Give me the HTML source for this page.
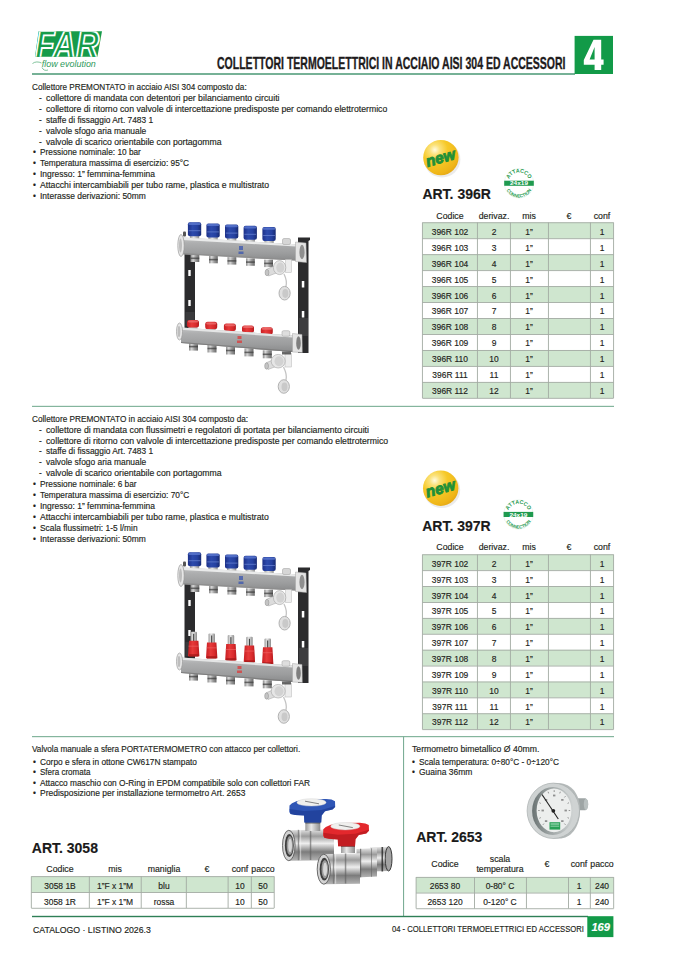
<!DOCTYPE html>
<html><head><meta charset="utf-8"><style>
html,body{margin:0;padding:0;background:#fff;}
body{width:677px;height:958px;position:relative;overflow:hidden;font-family:"Liberation Sans",sans-serif;}
.abs{position:absolute;}
.t{position:absolute;white-space:nowrap;-webkit-text-stroke:0.15px currentColor;}
</style></head><body>
<svg class="abs" style="left:0;top:0" width="677" height="958" viewBox="0 0 677 958">
<clipPath id="cpFar"><polygon points="38.6,31.3 102,31.3 97.4,56.8 35,56.8"/></clipPath>
<polygon points="38.6,31.3 102,31.3 97.4,56.8 35,56.8" fill="#169b4a"/>
<g clip-path="url(#cpFar)"><text x="35" y="57.6" font-family="Liberation Sans" font-weight="bold" font-style="italic" font-size="38" fill="#169b4a" stroke="#fff" stroke-width="1.9" textLength="64" lengthAdjust="spacingAndGlyphs">FAR</text></g>
<text x="41.8" y="66.8" font-family="Liberation Sans" font-style="italic" font-size="8.4" fill="#2e9a5a" textLength="54" lengthAdjust="spacingAndGlyphs" stroke="none">flow evolution</text>
<path d="M32.5,63.5 C35,61.5 38.5,61.5 41.5,63" stroke="#2e9a5a" stroke-width="0.6" fill="none"/>
<path d="M42,67.5 C43,70 45.5,71 48,70" stroke="#2e9a5a" stroke-width="0.6" fill="none"/>
<rect x="32" y="73.1" width="543" height="1.8" fill="#68a98b"/>
<rect x="574.6" y="35.9" width="38.4" height="38.1" fill="#129a48"/>
</svg>
<div class="t" style="left:216.6px;top:54.4px;font-size:16.2px;line-height:18px;font-weight:bold;color:#1e1b1c;transform:scaleX(0.6495);transform-origin:left;white-space:nowrap;-webkit-text-stroke:0.35px #1e1b1c">COLLETTORI TERMOELETTRICI IN ACCIAIO AISI 304 ED ACCESSORI</div>
<svg class="abs" style="left:0;top:0" width="677" height="958"><path fill="#fff" fill-rule="evenodd" d="M593.5,39.8 L601.2,39.8 L601.2,59.6 L603.6,59.6 L603.6,64.8 L601.2,64.8 L601.2,70 L594.6,70 L594.6,64.8 L583.8,64.8 L583.8,59.9 Z M594.6,47 L594.6,59.6 L589.6,59.6 Z"/></svg>
<div class="t" style="left:32.40px;top:83.14px;font-size:8.2px;line-height:9.84px;font-weight:normal;color:#231f20;font-style:normal;transform:scaleX(0.9995);transform-origin:left;">Collettore PREMONTATO in acciaio AISI 304 composto da:</div>
<div class="t" style="left:39.00px;top:94.02px;font-size:8.2px;line-height:9.84px;font-weight:normal;color:#231f20;font-style:normal;">-</div>
<div class="t" style="left:46.40px;top:94.02px;font-size:8.2px;line-height:9.84px;font-weight:normal;color:#231f20;font-style:normal;transform:scaleX(1.0712);transform-origin:left;">collettore di mandata con detentori per bilanciamento circuiti</div>
<div class="t" style="left:39.00px;top:104.90px;font-size:8.2px;line-height:9.84px;font-weight:normal;color:#231f20;font-style:normal;">-</div>
<div class="t" style="left:46.40px;top:104.90px;font-size:8.2px;line-height:9.84px;font-weight:normal;color:#231f20;font-style:normal;transform:scaleX(1.0622);transform-origin:left;">collettore di ritorno con valvole di intercettazione predisposte per comando elettrotermico</div>
<div class="t" style="left:39.00px;top:115.78px;font-size:8.2px;line-height:9.84px;font-weight:normal;color:#231f20;font-style:normal;">-</div>
<div class="t" style="left:46.40px;top:115.78px;font-size:8.2px;line-height:9.84px;font-weight:normal;color:#231f20;font-style:normal;transform:scaleX(1.0201);transform-origin:left;">staffe di fissaggio Art. 7483 1</div>
<div class="t" style="left:39.00px;top:126.66px;font-size:8.2px;line-height:9.84px;font-weight:normal;color:#231f20;font-style:normal;">-</div>
<div class="t" style="left:46.40px;top:126.66px;font-size:8.2px;line-height:9.84px;font-weight:normal;color:#231f20;font-style:normal;transform:scaleX(1.0297);transform-origin:left;">valvole sfogo aria manuale</div>
<div class="t" style="left:39.00px;top:137.54px;font-size:8.2px;line-height:9.84px;font-weight:normal;color:#231f20;font-style:normal;">-</div>
<div class="t" style="left:46.40px;top:137.54px;font-size:8.2px;line-height:9.84px;font-weight:normal;color:#231f20;font-style:normal;transform:scaleX(1.0562);transform-origin:left;">valvole di scarico orientabile con portagomma</div>
<div class="t" style="left:32.90px;top:148.42px;font-size:8.2px;line-height:9.84px;font-weight:normal;color:#231f20;font-style:normal;">•</div>
<div class="t" style="left:40.40px;top:148.42px;font-size:8.2px;line-height:9.84px;font-weight:normal;color:#231f20;font-style:normal;transform:scaleX(1.012);transform-origin:left;">Pressione nominale: 10 bar</div>
<div class="t" style="left:32.90px;top:159.30px;font-size:8.2px;line-height:9.84px;font-weight:normal;color:#231f20;font-style:normal;">•</div>
<div class="t" style="left:40.40px;top:159.30px;font-size:8.2px;line-height:9.84px;font-weight:normal;color:#231f20;font-style:normal;transform:scaleX(1.0136);transform-origin:left;">Temperatura massima di esercizio: 95°C</div>
<div class="t" style="left:32.90px;top:170.18px;font-size:8.2px;line-height:9.84px;font-weight:normal;color:#231f20;font-style:normal;">•</div>
<div class="t" style="left:40.40px;top:170.18px;font-size:8.2px;line-height:9.84px;font-weight:normal;color:#231f20;font-style:normal;transform:scaleX(1.0353);transform-origin:left;">Ingresso: 1” femmina-femmina</div>
<div class="t" style="left:32.90px;top:181.06px;font-size:8.2px;line-height:9.84px;font-weight:normal;color:#231f20;font-style:normal;">•</div>
<div class="t" style="left:40.40px;top:181.06px;font-size:8.2px;line-height:9.84px;font-weight:normal;color:#231f20;font-style:normal;transform:scaleX(1.0598);transform-origin:left;">Attacchi intercambiabili per tubo rame, plastica e multistrato</div>
<div class="t" style="left:32.90px;top:191.94px;font-size:8.2px;line-height:9.84px;font-weight:normal;color:#231f20;font-style:normal;">•</div>
<div class="t" style="left:40.40px;top:191.94px;font-size:8.2px;line-height:9.84px;font-weight:normal;color:#231f20;font-style:normal;transform:scaleX(1.0344);transform-origin:left;">Interasse derivazioni: 50mm</div>
<div class="t" style="left:32.40px;top:414.64px;font-size:8.2px;line-height:9.84px;font-weight:normal;color:#231f20;font-style:normal;transform:scaleX(1.0061);transform-origin:left;">Collettore PREMONTATO in acciaio AISI 304 composto da:</div>
<div class="t" style="left:39.00px;top:425.57px;font-size:8.2px;line-height:9.84px;font-weight:normal;color:#231f20;font-style:normal;">-</div>
<div class="t" style="left:46.40px;top:425.57px;font-size:8.2px;line-height:9.84px;font-weight:normal;color:#231f20;font-style:normal;transform:scaleX(1.0671);transform-origin:left;">collettore di mandata con flussimetri e regolatori di portata per bilanciamento circuiti</div>
<div class="t" style="left:39.00px;top:436.50px;font-size:8.2px;line-height:9.84px;font-weight:normal;color:#231f20;font-style:normal;">-</div>
<div class="t" style="left:46.40px;top:436.50px;font-size:8.2px;line-height:9.84px;font-weight:normal;color:#231f20;font-style:normal;transform:scaleX(1.0647);transform-origin:left;">collettore di ritorno con valvole di intercettazione predisposte per comando elettrotermico</div>
<div class="t" style="left:39.00px;top:447.43px;font-size:8.2px;line-height:9.84px;font-weight:normal;color:#231f20;font-style:normal;">-</div>
<div class="t" style="left:46.40px;top:447.43px;font-size:8.2px;line-height:9.84px;font-weight:normal;color:#231f20;font-style:normal;transform:scaleX(1.0201);transform-origin:left;">staffe di fissaggio Art. 7483 1</div>
<div class="t" style="left:39.00px;top:458.36px;font-size:8.2px;line-height:9.84px;font-weight:normal;color:#231f20;font-style:normal;">-</div>
<div class="t" style="left:46.40px;top:458.36px;font-size:8.2px;line-height:9.84px;font-weight:normal;color:#231f20;font-style:normal;transform:scaleX(1.0297);transform-origin:left;">valvole sfogo aria manuale</div>
<div class="t" style="left:39.00px;top:469.29px;font-size:8.2px;line-height:9.84px;font-weight:normal;color:#231f20;font-style:normal;">-</div>
<div class="t" style="left:46.40px;top:469.29px;font-size:8.2px;line-height:9.84px;font-weight:normal;color:#231f20;font-style:normal;transform:scaleX(1.0568);transform-origin:left;">valvole di scarico orientabile con portagomma</div>
<div class="t" style="left:32.90px;top:480.22px;font-size:8.2px;line-height:9.84px;font-weight:normal;color:#231f20;font-style:normal;">•</div>
<div class="t" style="left:40.40px;top:480.22px;font-size:8.2px;line-height:9.84px;font-weight:normal;color:#231f20;font-style:normal;transform:scaleX(1.0159);transform-origin:left;">Pressione nominale: 6 bar</div>
<div class="t" style="left:32.90px;top:491.15px;font-size:8.2px;line-height:9.84px;font-weight:normal;color:#231f20;font-style:normal;">•</div>
<div class="t" style="left:40.40px;top:491.15px;font-size:8.2px;line-height:9.84px;font-weight:normal;color:#231f20;font-style:normal;transform:scaleX(1.015);transform-origin:left;">Temperatura massima di esercizio: 70°C</div>
<div class="t" style="left:32.90px;top:502.08px;font-size:8.2px;line-height:9.84px;font-weight:normal;color:#231f20;font-style:normal;">•</div>
<div class="t" style="left:40.40px;top:502.08px;font-size:8.2px;line-height:9.84px;font-weight:normal;color:#231f20;font-style:normal;transform:scaleX(1.0353);transform-origin:left;">Ingresso: 1” femmina-femmina</div>
<div class="t" style="left:32.90px;top:513.01px;font-size:8.2px;line-height:9.84px;font-weight:normal;color:#231f20;font-style:normal;">•</div>
<div class="t" style="left:40.40px;top:513.01px;font-size:8.2px;line-height:9.84px;font-weight:normal;color:#231f20;font-style:normal;transform:scaleX(1.0584);transform-origin:left;">Attacchi intercambiabili per tubo rame, plastica e multistrato</div>
<div class="t" style="left:32.90px;top:523.94px;font-size:8.2px;line-height:9.84px;font-weight:normal;color:#231f20;font-style:normal;">•</div>
<div class="t" style="left:40.40px;top:523.94px;font-size:8.2px;line-height:9.84px;font-weight:normal;color:#231f20;font-style:normal;transform:scaleX(1.0209);transform-origin:left;">Scala flussimetri: 1-5 l/min</div>
<div class="t" style="left:32.90px;top:534.87px;font-size:8.2px;line-height:9.84px;font-weight:normal;color:#231f20;font-style:normal;">•</div>
<div class="t" style="left:40.40px;top:534.87px;font-size:8.2px;line-height:9.84px;font-weight:normal;color:#231f20;font-style:normal;transform:scaleX(1.0344);transform-origin:left;">Interasse derivazioni: 50mm</div>
<svg class="abs" style="left:0;top:0" width="677" height="958"><rect x="422.4" y="222.50" width="191.20" height="15.96" fill="#cfe6cf"/><rect x="422.4" y="254.42" width="191.20" height="15.96" fill="#cfe6cf"/><rect x="422.4" y="286.34" width="191.20" height="15.96" fill="#cfe6cf"/><rect x="422.4" y="318.26" width="191.20" height="15.96" fill="#cfe6cf"/><rect x="422.4" y="350.18" width="191.20" height="15.96" fill="#cfe6cf"/><rect x="422.4" y="382.10" width="191.20" height="15.96" fill="#cfe6cf"/><rect x="422.4" y="222.30" width="191.20" height="0.9" fill="#a3aba3"/><rect x="422.4" y="238.26" width="191.20" height="0.9" fill="#a3aba3"/><rect x="422.4" y="254.22" width="191.20" height="0.9" fill="#a3aba3"/><rect x="422.4" y="270.18" width="191.20" height="0.9" fill="#a3aba3"/><rect x="422.4" y="286.14" width="191.20" height="0.9" fill="#a3aba3"/><rect x="422.4" y="302.10" width="191.20" height="0.9" fill="#a3aba3"/><rect x="422.4" y="318.06" width="191.20" height="0.9" fill="#a3aba3"/><rect x="422.4" y="334.02" width="191.20" height="0.9" fill="#a3aba3"/><rect x="422.4" y="349.98" width="191.20" height="0.9" fill="#a3aba3"/><rect x="422.4" y="365.94" width="191.20" height="0.9" fill="#a3aba3"/><rect x="422.4" y="381.90" width="191.20" height="0.9" fill="#a3aba3"/><rect x="422.4" y="397.86" width="191.20" height="0.9" fill="#a3aba3"/><rect x="421.95" y="222.50" width="0.9" height="175.56" fill="#a3aba3"/><rect x="476.95" y="222.50" width="0.9" height="175.56" fill="#a3aba3"/><rect x="509.95" y="222.50" width="0.9" height="175.56" fill="#a3aba3"/><rect x="547.95" y="222.50" width="0.9" height="175.56" fill="#a3aba3"/><rect x="589.95" y="222.50" width="0.9" height="175.56" fill="#a3aba3"/><rect x="613.15" y="222.50" width="0.9" height="175.56" fill="#a3aba3"/></svg>
<div class="t" style="left:149.90px;width:600px;text-align:center;top:211.64px;font-size:8.2px;line-height:9.84px;font-weight:normal;color:#231f20;font-style:normal;transform:scaleX(1.07);">Codice</div>
<div class="t" style="left:193.90px;width:600px;text-align:center;top:211.64px;font-size:8.2px;line-height:9.84px;font-weight:normal;color:#231f20;font-style:normal;transform:scaleX(1.07);">derivaz.</div>
<div class="t" style="left:229.40px;width:600px;text-align:center;top:211.64px;font-size:8.2px;line-height:9.84px;font-weight:normal;color:#231f20;font-style:normal;transform:scaleX(1.07);">mis</div>
<div class="t" style="left:269.40px;width:600px;text-align:center;top:211.64px;font-size:8.2px;line-height:9.84px;font-weight:normal;color:#231f20;font-style:normal;transform:scaleX(1.07);">€</div>
<div class="t" style="left:302.00px;width:600px;text-align:center;top:211.64px;font-size:8.2px;line-height:9.84px;font-weight:normal;color:#231f20;font-style:normal;transform:scaleX(1.07);">conf</div>
<div class="t" style="left:149.90px;width:600px;text-align:center;top:227.99px;font-size:8.2px;line-height:9.84px;font-weight:normal;color:#231f20;font-style:normal;transform:scaleX(1.03);">396R 102</div>
<div class="t" style="left:193.90px;width:600px;text-align:center;top:227.99px;font-size:8.2px;line-height:9.84px;font-weight:normal;color:#231f20;font-style:normal;transform:scaleX(1.03);">2</div>
<div class="t" style="left:229.40px;width:600px;text-align:center;top:227.99px;font-size:8.2px;line-height:9.84px;font-weight:normal;color:#231f20;font-style:normal;transform:scaleX(1.03);">1”</div>
<div class="t" style="left:302.00px;width:600px;text-align:center;top:227.99px;font-size:8.2px;line-height:9.84px;font-weight:normal;color:#231f20;font-style:normal;transform:scaleX(1.03);">1</div>
<div class="t" style="left:149.90px;width:600px;text-align:center;top:243.89px;font-size:8.2px;line-height:9.84px;font-weight:normal;color:#231f20;font-style:normal;transform:scaleX(1.03);">396R 103</div>
<div class="t" style="left:193.90px;width:600px;text-align:center;top:243.89px;font-size:8.2px;line-height:9.84px;font-weight:normal;color:#231f20;font-style:normal;transform:scaleX(1.03);">3</div>
<div class="t" style="left:229.40px;width:600px;text-align:center;top:243.89px;font-size:8.2px;line-height:9.84px;font-weight:normal;color:#231f20;font-style:normal;transform:scaleX(1.03);">1”</div>
<div class="t" style="left:302.00px;width:600px;text-align:center;top:243.89px;font-size:8.2px;line-height:9.84px;font-weight:normal;color:#231f20;font-style:normal;transform:scaleX(1.03);">1</div>
<div class="t" style="left:149.90px;width:600px;text-align:center;top:259.79px;font-size:8.2px;line-height:9.84px;font-weight:normal;color:#231f20;font-style:normal;transform:scaleX(1.03);">396R 104</div>
<div class="t" style="left:193.90px;width:600px;text-align:center;top:259.79px;font-size:8.2px;line-height:9.84px;font-weight:normal;color:#231f20;font-style:normal;transform:scaleX(1.03);">4</div>
<div class="t" style="left:229.40px;width:600px;text-align:center;top:259.79px;font-size:8.2px;line-height:9.84px;font-weight:normal;color:#231f20;font-style:normal;transform:scaleX(1.03);">1”</div>
<div class="t" style="left:302.00px;width:600px;text-align:center;top:259.79px;font-size:8.2px;line-height:9.84px;font-weight:normal;color:#231f20;font-style:normal;transform:scaleX(1.03);">1</div>
<div class="t" style="left:149.90px;width:600px;text-align:center;top:275.69px;font-size:8.2px;line-height:9.84px;font-weight:normal;color:#231f20;font-style:normal;transform:scaleX(1.03);">396R 105</div>
<div class="t" style="left:193.90px;width:600px;text-align:center;top:275.69px;font-size:8.2px;line-height:9.84px;font-weight:normal;color:#231f20;font-style:normal;transform:scaleX(1.03);">5</div>
<div class="t" style="left:229.40px;width:600px;text-align:center;top:275.69px;font-size:8.2px;line-height:9.84px;font-weight:normal;color:#231f20;font-style:normal;transform:scaleX(1.03);">1”</div>
<div class="t" style="left:302.00px;width:600px;text-align:center;top:275.69px;font-size:8.2px;line-height:9.84px;font-weight:normal;color:#231f20;font-style:normal;transform:scaleX(1.03);">1</div>
<div class="t" style="left:149.90px;width:600px;text-align:center;top:291.59px;font-size:8.2px;line-height:9.84px;font-weight:normal;color:#231f20;font-style:normal;transform:scaleX(1.03);">396R 106</div>
<div class="t" style="left:193.90px;width:600px;text-align:center;top:291.59px;font-size:8.2px;line-height:9.84px;font-weight:normal;color:#231f20;font-style:normal;transform:scaleX(1.03);">6</div>
<div class="t" style="left:229.40px;width:600px;text-align:center;top:291.59px;font-size:8.2px;line-height:9.84px;font-weight:normal;color:#231f20;font-style:normal;transform:scaleX(1.03);">1”</div>
<div class="t" style="left:302.00px;width:600px;text-align:center;top:291.59px;font-size:8.2px;line-height:9.84px;font-weight:normal;color:#231f20;font-style:normal;transform:scaleX(1.03);">1</div>
<div class="t" style="left:149.90px;width:600px;text-align:center;top:307.49px;font-size:8.2px;line-height:9.84px;font-weight:normal;color:#231f20;font-style:normal;transform:scaleX(1.03);">396R 107</div>
<div class="t" style="left:193.90px;width:600px;text-align:center;top:307.49px;font-size:8.2px;line-height:9.84px;font-weight:normal;color:#231f20;font-style:normal;transform:scaleX(1.03);">7</div>
<div class="t" style="left:229.40px;width:600px;text-align:center;top:307.49px;font-size:8.2px;line-height:9.84px;font-weight:normal;color:#231f20;font-style:normal;transform:scaleX(1.03);">1”</div>
<div class="t" style="left:302.00px;width:600px;text-align:center;top:307.49px;font-size:8.2px;line-height:9.84px;font-weight:normal;color:#231f20;font-style:normal;transform:scaleX(1.03);">1</div>
<div class="t" style="left:149.90px;width:600px;text-align:center;top:323.39px;font-size:8.2px;line-height:9.84px;font-weight:normal;color:#231f20;font-style:normal;transform:scaleX(1.03);">396R 108</div>
<div class="t" style="left:193.90px;width:600px;text-align:center;top:323.39px;font-size:8.2px;line-height:9.84px;font-weight:normal;color:#231f20;font-style:normal;transform:scaleX(1.03);">8</div>
<div class="t" style="left:229.40px;width:600px;text-align:center;top:323.39px;font-size:8.2px;line-height:9.84px;font-weight:normal;color:#231f20;font-style:normal;transform:scaleX(1.03);">1”</div>
<div class="t" style="left:302.00px;width:600px;text-align:center;top:323.39px;font-size:8.2px;line-height:9.84px;font-weight:normal;color:#231f20;font-style:normal;transform:scaleX(1.03);">1</div>
<div class="t" style="left:149.90px;width:600px;text-align:center;top:339.29px;font-size:8.2px;line-height:9.84px;font-weight:normal;color:#231f20;font-style:normal;transform:scaleX(1.03);">396R 109</div>
<div class="t" style="left:193.90px;width:600px;text-align:center;top:339.29px;font-size:8.2px;line-height:9.84px;font-weight:normal;color:#231f20;font-style:normal;transform:scaleX(1.03);">9</div>
<div class="t" style="left:229.40px;width:600px;text-align:center;top:339.29px;font-size:8.2px;line-height:9.84px;font-weight:normal;color:#231f20;font-style:normal;transform:scaleX(1.03);">1”</div>
<div class="t" style="left:302.00px;width:600px;text-align:center;top:339.29px;font-size:8.2px;line-height:9.84px;font-weight:normal;color:#231f20;font-style:normal;transform:scaleX(1.03);">1</div>
<div class="t" style="left:149.90px;width:600px;text-align:center;top:355.19px;font-size:8.2px;line-height:9.84px;font-weight:normal;color:#231f20;font-style:normal;transform:scaleX(1.03);">396R 110</div>
<div class="t" style="left:193.90px;width:600px;text-align:center;top:355.19px;font-size:8.2px;line-height:9.84px;font-weight:normal;color:#231f20;font-style:normal;transform:scaleX(1.03);">10</div>
<div class="t" style="left:229.40px;width:600px;text-align:center;top:355.19px;font-size:8.2px;line-height:9.84px;font-weight:normal;color:#231f20;font-style:normal;transform:scaleX(1.03);">1”</div>
<div class="t" style="left:302.00px;width:600px;text-align:center;top:355.19px;font-size:8.2px;line-height:9.84px;font-weight:normal;color:#231f20;font-style:normal;transform:scaleX(1.03);">1</div>
<div class="t" style="left:149.90px;width:600px;text-align:center;top:371.09px;font-size:8.2px;line-height:9.84px;font-weight:normal;color:#231f20;font-style:normal;transform:scaleX(1.03);">396R 111</div>
<div class="t" style="left:193.90px;width:600px;text-align:center;top:371.09px;font-size:8.2px;line-height:9.84px;font-weight:normal;color:#231f20;font-style:normal;transform:scaleX(1.03);">11</div>
<div class="t" style="left:229.40px;width:600px;text-align:center;top:371.09px;font-size:8.2px;line-height:9.84px;font-weight:normal;color:#231f20;font-style:normal;transform:scaleX(1.03);">1”</div>
<div class="t" style="left:302.00px;width:600px;text-align:center;top:371.09px;font-size:8.2px;line-height:9.84px;font-weight:normal;color:#231f20;font-style:normal;transform:scaleX(1.03);">1</div>
<div class="t" style="left:149.90px;width:600px;text-align:center;top:386.99px;font-size:8.2px;line-height:9.84px;font-weight:normal;color:#231f20;font-style:normal;transform:scaleX(1.03);">396R 112</div>
<div class="t" style="left:193.90px;width:600px;text-align:center;top:386.99px;font-size:8.2px;line-height:9.84px;font-weight:normal;color:#231f20;font-style:normal;transform:scaleX(1.03);">12</div>
<div class="t" style="left:229.40px;width:600px;text-align:center;top:386.99px;font-size:8.2px;line-height:9.84px;font-weight:normal;color:#231f20;font-style:normal;transform:scaleX(1.03);">1”</div>
<div class="t" style="left:302.00px;width:600px;text-align:center;top:386.99px;font-size:8.2px;line-height:9.84px;font-weight:normal;color:#231f20;font-style:normal;transform:scaleX(1.03);">1</div>
<svg class="abs" style="left:0;top:0" width="677" height="958"><rect x="422.4" y="554.50" width="191.20" height="15.90" fill="#cfe6cf"/><rect x="422.4" y="586.30" width="191.20" height="15.90" fill="#cfe6cf"/><rect x="422.4" y="618.10" width="191.20" height="15.90" fill="#cfe6cf"/><rect x="422.4" y="649.90" width="191.20" height="15.90" fill="#cfe6cf"/><rect x="422.4" y="681.70" width="191.20" height="15.90" fill="#cfe6cf"/><rect x="422.4" y="713.50" width="191.20" height="15.90" fill="#cfe6cf"/><rect x="422.4" y="554.30" width="191.20" height="0.9" fill="#a3aba3"/><rect x="422.4" y="570.20" width="191.20" height="0.9" fill="#a3aba3"/><rect x="422.4" y="586.10" width="191.20" height="0.9" fill="#a3aba3"/><rect x="422.4" y="602.00" width="191.20" height="0.9" fill="#a3aba3"/><rect x="422.4" y="617.90" width="191.20" height="0.9" fill="#a3aba3"/><rect x="422.4" y="633.80" width="191.20" height="0.9" fill="#a3aba3"/><rect x="422.4" y="649.70" width="191.20" height="0.9" fill="#a3aba3"/><rect x="422.4" y="665.60" width="191.20" height="0.9" fill="#a3aba3"/><rect x="422.4" y="681.50" width="191.20" height="0.9" fill="#a3aba3"/><rect x="422.4" y="697.40" width="191.20" height="0.9" fill="#a3aba3"/><rect x="422.4" y="713.30" width="191.20" height="0.9" fill="#a3aba3"/><rect x="422.4" y="729.20" width="191.20" height="0.9" fill="#a3aba3"/><rect x="421.95" y="554.50" width="0.9" height="174.90" fill="#a3aba3"/><rect x="476.95" y="554.50" width="0.9" height="174.90" fill="#a3aba3"/><rect x="509.95" y="554.50" width="0.9" height="174.90" fill="#a3aba3"/><rect x="547.95" y="554.50" width="0.9" height="174.90" fill="#a3aba3"/><rect x="589.95" y="554.50" width="0.9" height="174.90" fill="#a3aba3"/><rect x="613.15" y="554.50" width="0.9" height="174.90" fill="#a3aba3"/></svg>
<div class="t" style="left:149.90px;width:600px;text-align:center;top:542.74px;font-size:8.2px;line-height:9.84px;font-weight:normal;color:#231f20;font-style:normal;transform:scaleX(1.07);">Codice</div>
<div class="t" style="left:193.90px;width:600px;text-align:center;top:542.74px;font-size:8.2px;line-height:9.84px;font-weight:normal;color:#231f20;font-style:normal;transform:scaleX(1.07);">derivaz.</div>
<div class="t" style="left:229.40px;width:600px;text-align:center;top:542.74px;font-size:8.2px;line-height:9.84px;font-weight:normal;color:#231f20;font-style:normal;transform:scaleX(1.07);">mis</div>
<div class="t" style="left:269.40px;width:600px;text-align:center;top:542.74px;font-size:8.2px;line-height:9.84px;font-weight:normal;color:#231f20;font-style:normal;transform:scaleX(1.07);">€</div>
<div class="t" style="left:302.00px;width:600px;text-align:center;top:542.74px;font-size:8.2px;line-height:9.84px;font-weight:normal;color:#231f20;font-style:normal;transform:scaleX(1.07);">conf</div>
<div class="t" style="left:149.90px;width:600px;text-align:center;top:559.94px;font-size:8.2px;line-height:9.84px;font-weight:normal;color:#231f20;font-style:normal;transform:scaleX(1.03);">397R 102</div>
<div class="t" style="left:193.90px;width:600px;text-align:center;top:559.94px;font-size:8.2px;line-height:9.84px;font-weight:normal;color:#231f20;font-style:normal;transform:scaleX(1.03);">2</div>
<div class="t" style="left:229.40px;width:600px;text-align:center;top:559.94px;font-size:8.2px;line-height:9.84px;font-weight:normal;color:#231f20;font-style:normal;transform:scaleX(1.03);">1”</div>
<div class="t" style="left:302.00px;width:600px;text-align:center;top:559.94px;font-size:8.2px;line-height:9.84px;font-weight:normal;color:#231f20;font-style:normal;transform:scaleX(1.03);">1</div>
<div class="t" style="left:149.90px;width:600px;text-align:center;top:575.78px;font-size:8.2px;line-height:9.84px;font-weight:normal;color:#231f20;font-style:normal;transform:scaleX(1.03);">397R 103</div>
<div class="t" style="left:193.90px;width:600px;text-align:center;top:575.78px;font-size:8.2px;line-height:9.84px;font-weight:normal;color:#231f20;font-style:normal;transform:scaleX(1.03);">3</div>
<div class="t" style="left:229.40px;width:600px;text-align:center;top:575.78px;font-size:8.2px;line-height:9.84px;font-weight:normal;color:#231f20;font-style:normal;transform:scaleX(1.03);">1”</div>
<div class="t" style="left:302.00px;width:600px;text-align:center;top:575.78px;font-size:8.2px;line-height:9.84px;font-weight:normal;color:#231f20;font-style:normal;transform:scaleX(1.03);">1</div>
<div class="t" style="left:149.90px;width:600px;text-align:center;top:591.62px;font-size:8.2px;line-height:9.84px;font-weight:normal;color:#231f20;font-style:normal;transform:scaleX(1.03);">397R 104</div>
<div class="t" style="left:193.90px;width:600px;text-align:center;top:591.62px;font-size:8.2px;line-height:9.84px;font-weight:normal;color:#231f20;font-style:normal;transform:scaleX(1.03);">4</div>
<div class="t" style="left:229.40px;width:600px;text-align:center;top:591.62px;font-size:8.2px;line-height:9.84px;font-weight:normal;color:#231f20;font-style:normal;transform:scaleX(1.03);">1”</div>
<div class="t" style="left:302.00px;width:600px;text-align:center;top:591.62px;font-size:8.2px;line-height:9.84px;font-weight:normal;color:#231f20;font-style:normal;transform:scaleX(1.03);">1</div>
<div class="t" style="left:149.90px;width:600px;text-align:center;top:607.46px;font-size:8.2px;line-height:9.84px;font-weight:normal;color:#231f20;font-style:normal;transform:scaleX(1.03);">397R 105</div>
<div class="t" style="left:193.90px;width:600px;text-align:center;top:607.46px;font-size:8.2px;line-height:9.84px;font-weight:normal;color:#231f20;font-style:normal;transform:scaleX(1.03);">5</div>
<div class="t" style="left:229.40px;width:600px;text-align:center;top:607.46px;font-size:8.2px;line-height:9.84px;font-weight:normal;color:#231f20;font-style:normal;transform:scaleX(1.03);">1”</div>
<div class="t" style="left:302.00px;width:600px;text-align:center;top:607.46px;font-size:8.2px;line-height:9.84px;font-weight:normal;color:#231f20;font-style:normal;transform:scaleX(1.03);">1</div>
<div class="t" style="left:149.90px;width:600px;text-align:center;top:623.30px;font-size:8.2px;line-height:9.84px;font-weight:normal;color:#231f20;font-style:normal;transform:scaleX(1.03);">397R 106</div>
<div class="t" style="left:193.90px;width:600px;text-align:center;top:623.30px;font-size:8.2px;line-height:9.84px;font-weight:normal;color:#231f20;font-style:normal;transform:scaleX(1.03);">6</div>
<div class="t" style="left:229.40px;width:600px;text-align:center;top:623.30px;font-size:8.2px;line-height:9.84px;font-weight:normal;color:#231f20;font-style:normal;transform:scaleX(1.03);">1”</div>
<div class="t" style="left:302.00px;width:600px;text-align:center;top:623.30px;font-size:8.2px;line-height:9.84px;font-weight:normal;color:#231f20;font-style:normal;transform:scaleX(1.03);">1</div>
<div class="t" style="left:149.90px;width:600px;text-align:center;top:639.14px;font-size:8.2px;line-height:9.84px;font-weight:normal;color:#231f20;font-style:normal;transform:scaleX(1.03);">397R 107</div>
<div class="t" style="left:193.90px;width:600px;text-align:center;top:639.14px;font-size:8.2px;line-height:9.84px;font-weight:normal;color:#231f20;font-style:normal;transform:scaleX(1.03);">7</div>
<div class="t" style="left:229.40px;width:600px;text-align:center;top:639.14px;font-size:8.2px;line-height:9.84px;font-weight:normal;color:#231f20;font-style:normal;transform:scaleX(1.03);">1”</div>
<div class="t" style="left:302.00px;width:600px;text-align:center;top:639.14px;font-size:8.2px;line-height:9.84px;font-weight:normal;color:#231f20;font-style:normal;transform:scaleX(1.03);">1</div>
<div class="t" style="left:149.90px;width:600px;text-align:center;top:654.98px;font-size:8.2px;line-height:9.84px;font-weight:normal;color:#231f20;font-style:normal;transform:scaleX(1.03);">397R 108</div>
<div class="t" style="left:193.90px;width:600px;text-align:center;top:654.98px;font-size:8.2px;line-height:9.84px;font-weight:normal;color:#231f20;font-style:normal;transform:scaleX(1.03);">8</div>
<div class="t" style="left:229.40px;width:600px;text-align:center;top:654.98px;font-size:8.2px;line-height:9.84px;font-weight:normal;color:#231f20;font-style:normal;transform:scaleX(1.03);">1”</div>
<div class="t" style="left:302.00px;width:600px;text-align:center;top:654.98px;font-size:8.2px;line-height:9.84px;font-weight:normal;color:#231f20;font-style:normal;transform:scaleX(1.03);">1</div>
<div class="t" style="left:149.90px;width:600px;text-align:center;top:670.82px;font-size:8.2px;line-height:9.84px;font-weight:normal;color:#231f20;font-style:normal;transform:scaleX(1.03);">397R 109</div>
<div class="t" style="left:193.90px;width:600px;text-align:center;top:670.82px;font-size:8.2px;line-height:9.84px;font-weight:normal;color:#231f20;font-style:normal;transform:scaleX(1.03);">9</div>
<div class="t" style="left:229.40px;width:600px;text-align:center;top:670.82px;font-size:8.2px;line-height:9.84px;font-weight:normal;color:#231f20;font-style:normal;transform:scaleX(1.03);">1”</div>
<div class="t" style="left:302.00px;width:600px;text-align:center;top:670.82px;font-size:8.2px;line-height:9.84px;font-weight:normal;color:#231f20;font-style:normal;transform:scaleX(1.03);">1</div>
<div class="t" style="left:149.90px;width:600px;text-align:center;top:686.66px;font-size:8.2px;line-height:9.84px;font-weight:normal;color:#231f20;font-style:normal;transform:scaleX(1.03);">397R 110</div>
<div class="t" style="left:193.90px;width:600px;text-align:center;top:686.66px;font-size:8.2px;line-height:9.84px;font-weight:normal;color:#231f20;font-style:normal;transform:scaleX(1.03);">10</div>
<div class="t" style="left:229.40px;width:600px;text-align:center;top:686.66px;font-size:8.2px;line-height:9.84px;font-weight:normal;color:#231f20;font-style:normal;transform:scaleX(1.03);">1”</div>
<div class="t" style="left:302.00px;width:600px;text-align:center;top:686.66px;font-size:8.2px;line-height:9.84px;font-weight:normal;color:#231f20;font-style:normal;transform:scaleX(1.03);">1</div>
<div class="t" style="left:149.90px;width:600px;text-align:center;top:702.50px;font-size:8.2px;line-height:9.84px;font-weight:normal;color:#231f20;font-style:normal;transform:scaleX(1.03);">397R 111</div>
<div class="t" style="left:193.90px;width:600px;text-align:center;top:702.50px;font-size:8.2px;line-height:9.84px;font-weight:normal;color:#231f20;font-style:normal;transform:scaleX(1.03);">11</div>
<div class="t" style="left:229.40px;width:600px;text-align:center;top:702.50px;font-size:8.2px;line-height:9.84px;font-weight:normal;color:#231f20;font-style:normal;transform:scaleX(1.03);">1”</div>
<div class="t" style="left:302.00px;width:600px;text-align:center;top:702.50px;font-size:8.2px;line-height:9.84px;font-weight:normal;color:#231f20;font-style:normal;transform:scaleX(1.03);">1</div>
<div class="t" style="left:149.90px;width:600px;text-align:center;top:718.34px;font-size:8.2px;line-height:9.84px;font-weight:normal;color:#231f20;font-style:normal;transform:scaleX(1.03);">397R 112</div>
<div class="t" style="left:193.90px;width:600px;text-align:center;top:718.34px;font-size:8.2px;line-height:9.84px;font-weight:normal;color:#231f20;font-style:normal;transform:scaleX(1.03);">12</div>
<div class="t" style="left:229.40px;width:600px;text-align:center;top:718.34px;font-size:8.2px;line-height:9.84px;font-weight:normal;color:#231f20;font-style:normal;transform:scaleX(1.03);">1”</div>
<div class="t" style="left:302.00px;width:600px;text-align:center;top:718.34px;font-size:8.2px;line-height:9.84px;font-weight:normal;color:#231f20;font-style:normal;transform:scaleX(1.03);">1</div>
<svg class="abs" style="left:0;top:0" width="677" height="958"><rect x="31.3" y="876.40" width="242.90" height="15.80" fill="#cfe6cf"/><rect x="31.3" y="876.20" width="242.90" height="0.9" fill="#a3aba3"/><rect x="31.3" y="892.00" width="242.90" height="0.9" fill="#a3aba3"/><rect x="31.3" y="907.80" width="242.90" height="0.9" fill="#a3aba3"/><rect x="30.85" y="876.40" width="0.9" height="31.60" fill="#a3aba3"/><rect x="88.85" y="876.40" width="0.9" height="31.60" fill="#a3aba3"/><rect x="140.75" y="876.40" width="0.9" height="31.60" fill="#a3aba3"/><rect x="185.85" y="876.40" width="0.9" height="31.60" fill="#a3aba3"/><rect x="227.65" y="876.40" width="0.9" height="31.60" fill="#a3aba3"/><rect x="250.85" y="876.40" width="0.9" height="31.60" fill="#a3aba3"/><rect x="273.75" y="876.40" width="0.9" height="31.60" fill="#a3aba3"/></svg>
<div class="t" style="left:-239.70px;width:600px;text-align:center;top:864.84px;font-size:8.2px;line-height:9.84px;font-weight:normal;color:#231f20;font-style:normal;transform:scaleX(1.07);">Codice</div>
<div class="t" style="left:-184.75px;width:600px;text-align:center;top:864.84px;font-size:8.2px;line-height:9.84px;font-weight:normal;color:#231f20;font-style:normal;transform:scaleX(1.07);">mis</div>
<div class="t" style="left:-136.25px;width:600px;text-align:center;top:864.84px;font-size:8.2px;line-height:9.84px;font-weight:normal;color:#231f20;font-style:normal;transform:scaleX(1.07);">maniglia</div>
<div class="t" style="left:-92.80px;width:600px;text-align:center;top:864.84px;font-size:8.2px;line-height:9.84px;font-weight:normal;color:#231f20;font-style:normal;transform:scaleX(1.07);">€</div>
<div class="t" style="left:-60.30px;width:600px;text-align:center;top:864.84px;font-size:8.2px;line-height:9.84px;font-weight:normal;color:#231f20;font-style:normal;transform:scaleX(1.07);">conf</div>
<div class="t" style="left:-37.25px;width:600px;text-align:center;top:864.84px;font-size:8.2px;line-height:9.84px;font-weight:normal;color:#231f20;font-style:normal;transform:scaleX(1.07);">pacco</div>
<div class="t" style="left:-239.70px;width:600px;text-align:center;top:881.76px;font-size:8.2px;line-height:9.84px;font-weight:normal;color:#231f20;font-style:normal;transform:scaleX(1.03);">3058 1B</div>
<div class="t" style="left:-184.75px;width:600px;text-align:center;top:881.76px;font-size:8.2px;line-height:9.84px;font-weight:normal;color:#231f20;font-style:normal;transform:scaleX(1.03);">1”F x 1”M</div>
<div class="t" style="left:-136.25px;width:600px;text-align:center;top:881.76px;font-size:8.2px;line-height:9.84px;font-weight:normal;color:#231f20;font-style:normal;transform:scaleX(1.03);">blu</div>
<div class="t" style="left:-60.30px;width:600px;text-align:center;top:881.76px;font-size:8.2px;line-height:9.84px;font-weight:normal;color:#231f20;font-style:normal;transform:scaleX(1.03);">10</div>
<div class="t" style="left:-37.25px;width:600px;text-align:center;top:881.76px;font-size:8.2px;line-height:9.84px;font-weight:normal;color:#231f20;font-style:normal;transform:scaleX(1.03);">50</div>
<div class="t" style="left:-239.70px;width:600px;text-align:center;top:897.50px;font-size:8.2px;line-height:9.84px;font-weight:normal;color:#231f20;font-style:normal;transform:scaleX(1.03);">3058 1R</div>
<div class="t" style="left:-184.75px;width:600px;text-align:center;top:897.50px;font-size:8.2px;line-height:9.84px;font-weight:normal;color:#231f20;font-style:normal;transform:scaleX(1.03);">1”F x 1”M</div>
<div class="t" style="left:-136.25px;width:600px;text-align:center;top:897.50px;font-size:8.2px;line-height:9.84px;font-weight:normal;color:#231f20;font-style:normal;transform:scaleX(1.03);">rossa</div>
<div class="t" style="left:-60.30px;width:600px;text-align:center;top:897.50px;font-size:8.2px;line-height:9.84px;font-weight:normal;color:#231f20;font-style:normal;transform:scaleX(1.03);">10</div>
<div class="t" style="left:-37.25px;width:600px;text-align:center;top:897.50px;font-size:8.2px;line-height:9.84px;font-weight:normal;color:#231f20;font-style:normal;transform:scaleX(1.03);">50</div>
<svg class="abs" style="left:0;top:0" width="677" height="958"><rect x="416.1" y="877.10" width="197.60" height="15.70" fill="#cfe6cf"/><rect x="416.1" y="876.90" width="197.60" height="0.9" fill="#a3aba3"/><rect x="416.1" y="892.60" width="197.60" height="0.9" fill="#a3aba3"/><rect x="416.1" y="908.30" width="197.60" height="0.9" fill="#a3aba3"/><rect x="415.65" y="877.10" width="0.9" height="31.40" fill="#a3aba3"/><rect x="474.05" y="877.10" width="0.9" height="31.40" fill="#a3aba3"/><rect x="525.95" y="877.10" width="0.9" height="31.40" fill="#a3aba3"/><rect x="568.05" y="877.10" width="0.9" height="31.40" fill="#a3aba3"/><rect x="589.85" y="877.10" width="0.9" height="31.40" fill="#a3aba3"/><rect x="613.25" y="877.10" width="0.9" height="31.40" fill="#a3aba3"/></svg>
<div class="t" style="left:145.30px;width:600px;text-align:center;top:860.04px;font-size:8.2px;line-height:9.84px;font-weight:normal;color:#231f20;font-style:normal;transform:scaleX(1.07);">Codice</div>
<div class="t" style="left:200.45px;width:600px;text-align:center;top:854.84px;font-size:8.2px;line-height:9.84px;font-weight:normal;color:#231f20;font-style:normal;transform:scaleX(1.07);">scala</div>
<div class="t" style="left:200.45px;width:600px;text-align:center;top:865.24px;font-size:8.2px;line-height:9.84px;font-weight:normal;color:#231f20;font-style:normal;transform:scaleX(1.07);">temperatura</div>
<div class="t" style="left:247.45px;width:600px;text-align:center;top:859.54px;font-size:8.2px;line-height:9.84px;font-weight:normal;color:#231f20;font-style:normal;transform:scaleX(1.07);">€</div>
<div class="t" style="left:279.40px;width:600px;text-align:center;top:859.54px;font-size:8.2px;line-height:9.84px;font-weight:normal;color:#231f20;font-style:normal;transform:scaleX(1.07);">conf</div>
<div class="t" style="left:302.00px;width:600px;text-align:center;top:859.54px;font-size:8.2px;line-height:9.84px;font-weight:normal;color:#231f20;font-style:normal;transform:scaleX(1.07);">pacco</div>
<div class="t" style="left:145.30px;width:600px;text-align:center;top:882.38px;font-size:8.2px;line-height:9.84px;font-weight:normal;color:#231f20;font-style:normal;transform:scaleX(1.03);">2653 80</div>
<div class="t" style="left:200.45px;width:600px;text-align:center;top:882.38px;font-size:8.2px;line-height:9.84px;font-weight:normal;color:#231f20;font-style:normal;transform:scaleX(1.03);">0-80° C</div>
<div class="t" style="left:279.40px;width:600px;text-align:center;top:882.38px;font-size:8.2px;line-height:9.84px;font-weight:normal;color:#231f20;font-style:normal;transform:scaleX(1.03);">1</div>
<div class="t" style="left:302.00px;width:600px;text-align:center;top:882.38px;font-size:8.2px;line-height:9.84px;font-weight:normal;color:#231f20;font-style:normal;transform:scaleX(1.03);">240</div>
<div class="t" style="left:145.30px;width:600px;text-align:center;top:898.02px;font-size:8.2px;line-height:9.84px;font-weight:normal;color:#231f20;font-style:normal;transform:scaleX(1.03);">2653 120</div>
<div class="t" style="left:200.45px;width:600px;text-align:center;top:898.02px;font-size:8.2px;line-height:9.84px;font-weight:normal;color:#231f20;font-style:normal;transform:scaleX(1.03);">0-120° C</div>
<div class="t" style="left:279.40px;width:600px;text-align:center;top:898.02px;font-size:8.2px;line-height:9.84px;font-weight:normal;color:#231f20;font-style:normal;transform:scaleX(1.03);">1</div>
<div class="t" style="left:302.00px;width:600px;text-align:center;top:898.02px;font-size:8.2px;line-height:9.84px;font-weight:normal;color:#231f20;font-style:normal;transform:scaleX(1.03);">240</div>
<div class="t" style="left:422.40px;top:186.35px;font-size:14px;line-height:16.80px;font-weight:bold;color:#1a1a1a;font-style:normal;">ART. 396R</div>
<div class="t" style="left:422.20px;top:518.05px;font-size:14px;line-height:16.80px;font-weight:bold;color:#1a1a1a;font-style:normal;">ART. 397R</div>
<div class="t" style="left:31.80px;top:840.05px;font-size:14px;line-height:16.80px;font-weight:bold;color:#1a1a1a;font-style:normal;">ART. 3058</div>
<div class="t" style="left:416.20px;top:828.75px;font-size:14px;line-height:16.80px;font-weight:bold;color:#1a1a1a;font-style:normal;">ART. 2653</div>
<div class="t" style="left:32.40px;top:745.24px;font-size:8.2px;line-height:9.84px;font-weight:normal;color:#231f20;font-style:normal;transform:scaleX(0.9978);transform-origin:left;">Valvola manuale a sfera PORTATERMOMETRO con attacco per collettori.</div>
<div class="t" style="left:32.90px;top:757.94px;font-size:8.2px;line-height:9.84px;font-weight:normal;color:#231f20;font-style:normal;">•</div>
<div class="t" style="left:40.40px;top:757.94px;font-size:8.2px;line-height:9.84px;font-weight:normal;color:#231f20;font-style:normal;transform:scaleX(1.0142);transform-origin:left;">Corpo e sfera in ottone CW617N stampato</div>
<div class="t" style="left:32.90px;top:768.44px;font-size:8.2px;line-height:9.84px;font-weight:normal;color:#231f20;font-style:normal;">•</div>
<div class="t" style="left:40.40px;top:768.44px;font-size:8.2px;line-height:9.84px;font-weight:normal;color:#231f20;font-style:normal;transform:scaleX(0.9806);transform-origin:left;">Sfera cromata</div>
<div class="t" style="left:32.90px;top:778.94px;font-size:8.2px;line-height:9.84px;font-weight:normal;color:#231f20;font-style:normal;">•</div>
<div class="t" style="left:40.40px;top:778.94px;font-size:8.2px;line-height:9.84px;font-weight:normal;color:#231f20;font-style:normal;transform:scaleX(1.0158);transform-origin:left;">Attacco maschio con O-Ring in EPDM compatibile solo con collettori FAR</div>
<div class="t" style="left:32.90px;top:789.44px;font-size:8.2px;line-height:9.84px;font-weight:normal;color:#231f20;font-style:normal;">•</div>
<div class="t" style="left:40.40px;top:789.44px;font-size:8.2px;line-height:9.84px;font-weight:normal;color:#231f20;font-style:normal;transform:scaleX(1.0354);transform-origin:left;">Predisposizione per installazione termometro Art. 2653</div>
<div class="t" style="left:411.60px;top:744.64px;font-size:8.2px;line-height:9.84px;font-weight:normal;color:#231f20;font-style:normal;transform:scaleX(1.0565);transform-origin:left;">Termometro bimetallico Ø 40mm.</div>
<div class="t" style="left:411.90px;top:757.84px;font-size:8.2px;line-height:9.84px;font-weight:normal;color:#231f20;font-style:normal;">•</div>
<div class="t" style="left:419.40px;top:757.84px;font-size:8.2px;line-height:9.84px;font-weight:normal;color:#231f20;font-style:normal;transform:scaleX(1.0145);transform-origin:left;">Scala temperatura: 0÷80°C - 0÷120°C</div>
<div class="t" style="left:411.90px;top:767.94px;font-size:8.2px;line-height:9.84px;font-weight:normal;color:#231f20;font-style:normal;">•</div>
<div class="t" style="left:419.40px;top:767.94px;font-size:8.2px;line-height:9.84px;font-weight:normal;color:#231f20;font-style:normal;transform:scaleX(1.0356);transform-origin:left;">Guaina 36mm</div>
<svg class="abs" style="left:0;top:0" width="677" height="958"><defs>
<linearGradient id="gBar" x1="0" y1="0" x2="0" y2="1">
<stop offset="0" stop-color="#c2c3c3"/><stop offset="0.25" stop-color="#adaeaf"/><stop offset="0.7" stop-color="#9b9c9d"/><stop offset="1" stop-color="#8a8b8c"/></linearGradient>
<linearGradient id="gBlue" x1="0" y1="0" x2="1" y2="0">
<stop offset="0" stop-color="#1c3088"/><stop offset="0.35" stop-color="#2c4aac"/><stop offset="0.7" stop-color="#2541a0"/><stop offset="1" stop-color="#172a72"/></linearGradient>
<linearGradient id="gRed" x1="0" y1="0" x2="1" y2="0">
<stop offset="0" stop-color="#c81e22"/><stop offset="0.4" stop-color="#e63a3a"/><stop offset="0.75" stop-color="#d82a2c"/><stop offset="1" stop-color="#b31a1d"/></linearGradient>
<linearGradient id="gNut" x1="0" y1="0" x2="1" y2="0">
<stop offset="0" stop-color="#8a8a8a"/><stop offset="0.3" stop-color="#d6d6d6"/><stop offset="0.6" stop-color="#9c9c9c"/><stop offset="1" stop-color="#6a6a6a"/></linearGradient>
<linearGradient id="gTube" x1="0" y1="0" x2="1" y2="0">
<stop offset="0" stop-color="#9a9a9a"/><stop offset="0.4" stop-color="#e8e8e8"/><stop offset="1" stop-color="#8c8c8c"/></linearGradient>
<linearGradient id="gChrome" x1="0" y1="0" x2="0" y2="1">
<stop offset="0" stop-color="#e6e6e6"/><stop offset="0.22" stop-color="#9c9c9c"/><stop offset="0.45" stop-color="#eeeeee"/><stop offset="0.72" stop-color="#7c7c7c"/><stop offset="1" stop-color="#b4b4b4"/></linearGradient>
<linearGradient id="gThRing" x1="0" y1="0" x2="1" y2="0">
<stop offset="0" stop-color="#6a7373"/><stop offset="0.4" stop-color="#9ba2a2"/><stop offset="1" stop-color="#cfd3d3"/></linearGradient>
<radialGradient id="gNew" cx="0.33" cy="0.28" r="0.8">
<stop offset="0" stop-color="#fffbe0"/><stop offset="0.18" stop-color="#fbe27a"/><stop offset="0.45" stop-color="#f6c928"/><stop offset="0.85" stop-color="#efb518"/><stop offset="1" stop-color="#e2a514"/></radialGradient>
</defs><g transform="translate(0 0)"><polygon points="184.5,250 195,250 195,330 184.5,330" fill="#2b2b2d"/><rect x="188.3" y="270" width="2.4" height="6" fill="#fff"/><rect x="188.3" y="300" width="2.4" height="6" fill="#fff"/><polygon points="185.5,312 194.5,312 194.5,326 185.5,326" fill="#3a3a3c"/><polygon points="298,237.5 310,237.5 310,240 308.5,241 308.5,353 298,353" fill="#2b2b2d"/><rect x="301.8" y="281" width="2.5" height="6.5" fill="#fff"/><rect x="301.8" y="311" width="2.5" height="6.5" fill="#fff"/><polygon points="299,318 308,318 308,336 299,336" fill="#3d3d3f"/><rect x="189.9" y="234.2" width="9.3" height="6" fill="url(#gTube)"/><rect x="187.9" y="222.2" width="13.3" height="14" rx="2" fill="url(#gBlue)"/><rect x="188.4" y="222.7" width="12.3" height="2.2" rx="1" fill="#5b78cf" opacity="0.8"/><rect x="188.7" y="230.2" width="11.7" height="1" fill="#6d88d6" opacity="0.7"/><rect x="208.4" y="235.4" width="9.3" height="6" fill="url(#gTube)"/><rect x="206.4" y="223.4" width="13.3" height="14" rx="2" fill="url(#gBlue)"/><rect x="206.9" y="223.9" width="12.3" height="2.2" rx="1" fill="#5b78cf" opacity="0.8"/><rect x="207.2" y="231.4" width="11.7" height="1" fill="#6d88d6" opacity="0.7"/><rect x="227.0" y="236.6" width="9.3" height="6" fill="url(#gTube)"/><rect x="225.0" y="224.6" width="13.3" height="14" rx="2" fill="url(#gBlue)"/><rect x="225.5" y="225.1" width="12.3" height="2.2" rx="1" fill="#5b78cf" opacity="0.8"/><rect x="225.8" y="232.6" width="11.7" height="1" fill="#6d88d6" opacity="0.7"/><rect x="245.6" y="237.8" width="9.3" height="6" fill="url(#gTube)"/><rect x="243.6" y="225.8" width="13.3" height="14" rx="2" fill="url(#gBlue)"/><rect x="244.1" y="226.3" width="12.3" height="2.2" rx="1" fill="#5b78cf" opacity="0.8"/><rect x="244.4" y="233.8" width="11.7" height="1" fill="#6d88d6" opacity="0.7"/><rect x="264.4" y="239.0" width="9.3" height="6" fill="url(#gTube)"/><rect x="262.4" y="227.0" width="13.3" height="14" rx="2" fill="url(#gBlue)"/><rect x="262.9" y="227.5" width="12.3" height="2.2" rx="1" fill="#5b78cf" opacity="0.8"/><rect x="263.2" y="235.0" width="11.7" height="1" fill="#6d88d6" opacity="0.7"/><rect x="190.5" y="254.5" width="8.8" height="7.5" fill="url(#gNut)"/><rect x="190.5" y="257.5" width="8.8" height="1.6" fill="#3c3c3c" opacity="0.7"/><rect x="209.0" y="255.8" width="8.8" height="7.5" fill="url(#gNut)"/><rect x="209.0" y="258.8" width="8.8" height="1.6" fill="#3c3c3c" opacity="0.7"/><rect x="227.5" y="257.1" width="8.8" height="7.5" fill="url(#gNut)"/><rect x="227.5" y="260.1" width="8.8" height="1.6" fill="#3c3c3c" opacity="0.7"/><rect x="246.0" y="258.3" width="8.8" height="7.5" fill="url(#gNut)"/><rect x="246.0" y="261.3" width="8.8" height="1.6" fill="#3c3c3c" opacity="0.7"/><rect x="264.2" y="259.6" width="8.8" height="7.5" fill="url(#gNut)"/><rect x="264.2" y="262.6" width="8.8" height="1.6" fill="#3c3c3c" opacity="0.7"/><polygon points="182.5,237.5 296,244.2 296,260.5 182.5,254.3" fill="url(#gBar)"/><polygon points="182.5,237.5 296,244.2 296,246.5 182.5,240" fill="#e9eaea"/><polygon points="182.5,253 296,259.3 296,260.5 182.5,254.3" fill="#8e8e8e"/><ellipse cx="181" cy="245.5" rx="3.2" ry="11" fill="#e6e6e6" stroke="#9a9a9a" stroke-width="0.7"/><ellipse cx="180.5" cy="245.5" rx="1.5" ry="7" fill="#bdbdbd"/><rect x="183" y="231.5" width="3" height="5" rx="1" fill="#555"/><rect x="239" y="246" width="4" height="4" fill="#3a55b0" opacity="0.75"/><rect x="238.5" y="251.5" width="5" height="2.5" fill="#3a55b0" opacity="0.75"/><rect x="282.5" y="238.5" width="8" height="6" rx="1.5" fill="#d6d6d6" stroke="#9c9c9c" stroke-width="0.5"/><polygon points="295.5,242 306,243 306.5,262.5 295.5,261.5" fill="#e4e4e4" stroke="#a5a5a5" stroke-width="0.5"/><ellipse cx="302" cy="252" rx="2.6" ry="7.2" fill="#8f8f8f"/><rect x="285.7" y="259.5" width="5.7" height="13" fill="#ececec" stroke="#b5b5b5" stroke-width="0.5"/><polygon points="266.2,269.5 276.5,265 279,272 268.5,276" fill="#dcdcdc" stroke="#a0a0a0" stroke-width="0.5"/><ellipse cx="267" cy="272.6" rx="1.9" ry="3.2" fill="#c4c4c4" stroke="#8f8f8f" stroke-width="0.5"/><ellipse cx="279.6" cy="267.6" rx="6.2" ry="7" fill="#e6e6e6" stroke="#a3a3a3" stroke-width="0.6"/><ellipse cx="280.3" cy="267.6" rx="4" ry="5.1" fill="#d2d2d2"/><path d="M284,274 C286.5,279 287,283 285.8,287" stroke="#c4c4c4" stroke-width="1.3" fill="none"/><ellipse cx="284.6" cy="293.2" rx="5.6" ry="6.8" fill="#e0e0e0" stroke="#a3a3a3" stroke-width="0.8"/><ellipse cx="285.3" cy="293.5" rx="3" ry="4.4" fill="#c9c9c9"/><rect x="188.5" y="326.0" width="9" height="4" fill="#b6b6b6"/><rect x="187.0" y="320.0" width="12" height="7.4" rx="2.5" fill="url(#gRed)"/><rect x="188.0" y="320.6" width="10.2" height="2" rx="1" fill="#f07878" opacity="0.7"/><rect x="206.7" y="327.8" width="9" height="4" fill="#b6b6b6"/><rect x="205.2" y="321.8" width="12" height="7.4" rx="2.5" fill="url(#gRed)"/><rect x="206.2" y="322.4" width="10.2" height="2" rx="1" fill="#f07878" opacity="0.7"/><rect x="225.4" y="329.6" width="9" height="4" fill="#b6b6b6"/><rect x="223.9" y="323.6" width="12" height="7.4" rx="2.5" fill="url(#gRed)"/><rect x="224.9" y="324.2" width="10.2" height="2" rx="1" fill="#f07878" opacity="0.7"/><rect x="243.5" y="331.4" width="9" height="4" fill="#b6b6b6"/><rect x="242.0" y="325.4" width="12" height="7.4" rx="2.5" fill="url(#gRed)"/><rect x="243.0" y="326.0" width="10.2" height="2" rx="1" fill="#f07878" opacity="0.7"/><rect x="262.3" y="333.2" width="9" height="4" fill="#b6b6b6"/><rect x="260.8" y="327.2" width="12" height="7.4" rx="2.5" fill="url(#gRed)"/><rect x="261.8" y="327.8" width="10.2" height="2" rx="1" fill="#f07878" opacity="0.7"/><rect x="189.0" y="342.6" width="9" height="8" fill="url(#gNut)"/><rect x="189.0" y="345.8" width="9" height="1.6" fill="#3c3c3c" opacity="0.7"/><rect x="207.5" y="344.5" width="9" height="8" fill="url(#gNut)"/><rect x="207.5" y="347.7" width="9" height="1.6" fill="#3c3c3c" opacity="0.7"/><rect x="226.0" y="346.5" width="9" height="8" fill="url(#gNut)"/><rect x="226.0" y="349.7" width="9" height="1.6" fill="#3c3c3c" opacity="0.7"/><rect x="244.5" y="348.4" width="9" height="8" fill="url(#gNut)"/><rect x="244.5" y="351.6" width="9" height="1.6" fill="#3c3c3c" opacity="0.7"/><rect x="262.8" y="350.3" width="9" height="8" fill="url(#gNut)"/><rect x="262.8" y="353.5" width="9" height="1.6" fill="#3c3c3c" opacity="0.7"/><polygon points="181,327.5 293,335.5 293,352 181,343.1" fill="url(#gBar)"/><polygon points="181,327.5 293,335.5 293,337.6 181,329.8" fill="#e4e5e5"/><polygon points="181,341.9 293,350.8 293,352 181,343.1" fill="#7e7e7e"/><ellipse cx="179.5" cy="331.5" rx="3" ry="8.5" fill="#e6e6e6" stroke="#9a9a9a" stroke-width="0.7"/><ellipse cx="179" cy="331.5" rx="1.4" ry="5.5" fill="#bdbdbd"/><rect x="237.5" y="336" width="4" height="3" fill="#d84040" opacity="0.8"/><rect x="237" y="340.5" width="5" height="2.5" fill="#d84040" opacity="0.8"/><rect x="282" y="330.7" width="7.8" height="5.5" rx="1.5" fill="#dedede" stroke="#9c9c9c" stroke-width="0.5"/><polygon points="292.5,333.5 302,334.5 302.3,352.5 292.5,352" fill="#e4e4e4" stroke="#a5a5a5" stroke-width="0.5"/><ellipse cx="298.5" cy="343" rx="2.3" ry="6.8" fill="#7f7f7f"/><rect x="285" y="353.4" width="6.4" height="13.6" fill="#ececec" stroke="#b5b5b5" stroke-width="0.5"/><polygon points="265.8,363 276,358.5 278.5,365.5 268,369.5" fill="#dcdcdc" stroke="#a0a0a0" stroke-width="0.5"/><ellipse cx="266.6" cy="366" rx="1.9" ry="3.2" fill="#c4c4c4" stroke="#8f8f8f" stroke-width="0.5"/><ellipse cx="278.2" cy="361.2" rx="7" ry="6.8" fill="#e6e6e6" stroke="#a3a3a3" stroke-width="0.6"/><ellipse cx="279" cy="361.2" rx="4.5" ry="5" fill="#d2d2d2"/><rect x="282" y="351.5" width="9" height="3" fill="#444" opacity="0.8"/><path d="M283.5,367 C286,372 287,376 286,380" stroke="#c4c4c4" stroke-width="1.3" fill="none"/><ellipse cx="283.8" cy="386.5" rx="5.6" ry="6.8" fill="#e0e0e0" stroke="#a3a3a3" stroke-width="0.8"/><ellipse cx="284.5" cy="386.8" rx="3" ry="4.4" fill="#c9c9c9"/></g><g transform="translate(0 330)"><polygon points="184.5,250 195,250 195,330 184.5,330" fill="#2b2b2d"/><rect x="188.3" y="270" width="2.4" height="6" fill="#fff"/><rect x="188.3" y="300" width="2.4" height="6" fill="#fff"/><polygon points="185.5,312 194.5,312 194.5,326 185.5,326" fill="#3a3a3c"/><polygon points="298,237.5 310,237.5 310,240 308.5,241 308.5,353 298,353" fill="#2b2b2d"/><rect x="301.8" y="281" width="2.5" height="6.5" fill="#fff"/><rect x="301.8" y="311" width="2.5" height="6.5" fill="#fff"/><polygon points="299,318 308,318 308,336 299,336" fill="#3d3d3f"/><rect x="189.9" y="234.2" width="9.3" height="6" fill="url(#gTube)"/><rect x="187.9" y="222.2" width="13.3" height="14" rx="2" fill="url(#gBlue)"/><rect x="188.4" y="222.7" width="12.3" height="2.2" rx="1" fill="#5b78cf" opacity="0.8"/><rect x="188.7" y="230.2" width="11.7" height="1" fill="#6d88d6" opacity="0.7"/><rect x="208.4" y="235.4" width="9.3" height="6" fill="url(#gTube)"/><rect x="206.4" y="223.4" width="13.3" height="14" rx="2" fill="url(#gBlue)"/><rect x="206.9" y="223.9" width="12.3" height="2.2" rx="1" fill="#5b78cf" opacity="0.8"/><rect x="207.2" y="231.4" width="11.7" height="1" fill="#6d88d6" opacity="0.7"/><rect x="227.0" y="236.6" width="9.3" height="6" fill="url(#gTube)"/><rect x="225.0" y="224.6" width="13.3" height="14" rx="2" fill="url(#gBlue)"/><rect x="225.5" y="225.1" width="12.3" height="2.2" rx="1" fill="#5b78cf" opacity="0.8"/><rect x="225.8" y="232.6" width="11.7" height="1" fill="#6d88d6" opacity="0.7"/><rect x="245.6" y="237.8" width="9.3" height="6" fill="url(#gTube)"/><rect x="243.6" y="225.8" width="13.3" height="14" rx="2" fill="url(#gBlue)"/><rect x="244.1" y="226.3" width="12.3" height="2.2" rx="1" fill="#5b78cf" opacity="0.8"/><rect x="244.4" y="233.8" width="11.7" height="1" fill="#6d88d6" opacity="0.7"/><rect x="264.4" y="239.0" width="9.3" height="6" fill="url(#gTube)"/><rect x="262.4" y="227.0" width="13.3" height="14" rx="2" fill="url(#gBlue)"/><rect x="262.9" y="227.5" width="12.3" height="2.2" rx="1" fill="#5b78cf" opacity="0.8"/><rect x="263.2" y="235.0" width="11.7" height="1" fill="#6d88d6" opacity="0.7"/><rect x="190.5" y="254.5" width="8.8" height="7.5" fill="url(#gNut)"/><rect x="190.5" y="257.5" width="8.8" height="1.6" fill="#3c3c3c" opacity="0.7"/><rect x="209.0" y="255.8" width="8.8" height="7.5" fill="url(#gNut)"/><rect x="209.0" y="258.8" width="8.8" height="1.6" fill="#3c3c3c" opacity="0.7"/><rect x="227.5" y="257.1" width="8.8" height="7.5" fill="url(#gNut)"/><rect x="227.5" y="260.1" width="8.8" height="1.6" fill="#3c3c3c" opacity="0.7"/><rect x="246.0" y="258.3" width="8.8" height="7.5" fill="url(#gNut)"/><rect x="246.0" y="261.3" width="8.8" height="1.6" fill="#3c3c3c" opacity="0.7"/><rect x="264.2" y="259.6" width="8.8" height="7.5" fill="url(#gNut)"/><rect x="264.2" y="262.6" width="8.8" height="1.6" fill="#3c3c3c" opacity="0.7"/><polygon points="182.5,237.5 296,244.2 296,260.5 182.5,254.3" fill="url(#gBar)"/><polygon points="182.5,237.5 296,244.2 296,246.5 182.5,240" fill="#e9eaea"/><polygon points="182.5,253 296,259.3 296,260.5 182.5,254.3" fill="#8e8e8e"/><ellipse cx="181" cy="245.5" rx="3.2" ry="11" fill="#e6e6e6" stroke="#9a9a9a" stroke-width="0.7"/><ellipse cx="180.5" cy="245.5" rx="1.5" ry="7" fill="#bdbdbd"/><rect x="183" y="231.5" width="3" height="5" rx="1" fill="#555"/><rect x="239" y="246" width="4" height="4" fill="#3a55b0" opacity="0.75"/><rect x="238.5" y="251.5" width="5" height="2.5" fill="#3a55b0" opacity="0.75"/><rect x="282.5" y="238.5" width="8" height="6" rx="1.5" fill="#d6d6d6" stroke="#9c9c9c" stroke-width="0.5"/><polygon points="295.5,242 306,243 306.5,262.5 295.5,261.5" fill="#e4e4e4" stroke="#a5a5a5" stroke-width="0.5"/><ellipse cx="302" cy="252" rx="2.6" ry="7.2" fill="#8f8f8f"/><rect x="285.7" y="259.5" width="5.7" height="13" fill="#ececec" stroke="#b5b5b5" stroke-width="0.5"/><polygon points="266.2,269.5 276.5,265 279,272 268.5,276" fill="#dcdcdc" stroke="#a0a0a0" stroke-width="0.5"/><ellipse cx="267" cy="272.6" rx="1.9" ry="3.2" fill="#c4c4c4" stroke="#8f8f8f" stroke-width="0.5"/><ellipse cx="279.6" cy="267.6" rx="6.2" ry="7" fill="#e6e6e6" stroke="#a3a3a3" stroke-width="0.6"/><ellipse cx="280.3" cy="267.6" rx="4" ry="5.1" fill="#d2d2d2"/><path d="M284,274 C286.5,279 287,283 285.8,287" stroke="#c4c4c4" stroke-width="1.3" fill="none"/><ellipse cx="284.6" cy="293.2" rx="5.6" ry="6.8" fill="#e0e0e0" stroke="#a3a3a3" stroke-width="0.8"/><ellipse cx="285.3" cy="293.5" rx="3" ry="4.4" fill="#c9c9c9"/><rect x="190.5" y="301.8" width="6.5" height="9.9" rx="1" fill="url(#gTube)"/><rect x="193.2" y="303.8" width="1" height="8.9" fill="#333"/><polygon points="189.0,310.7 198.4,310.7 199.4,326.2 188.0,326.2" fill="url(#gRed)"/><rect x="188.5" y="315.7" width="10.5" height="0.9" fill="#f27070" opacity="0.6"/><rect x="189.0" y="324.2" width="9.5" height="2.5" fill="#a41818" opacity="0.8"/><rect x="208.5" y="303.5" width="6.5" height="9.9" rx="1" fill="url(#gTube)"/><rect x="211.2" y="305.5" width="1" height="8.9" fill="#333"/><polygon points="207.0,312.4 216.4,312.4 217.4,328.2 206.0,328.2" fill="url(#gRed)"/><rect x="206.5" y="317.4" width="10.5" height="0.9" fill="#f27070" opacity="0.6"/><rect x="207.0" y="326.2" width="9.5" height="2.5" fill="#a41818" opacity="0.8"/><rect x="227.7" y="305.1" width="6.5" height="9.9" rx="1" fill="url(#gTube)"/><rect x="230.4" y="307.1" width="1" height="8.9" fill="#333"/><polygon points="226.2,314.0 235.6,314.0 236.6,330.2 225.2,330.2" fill="url(#gRed)"/><rect x="225.7" y="319.0" width="10.5" height="0.9" fill="#f27070" opacity="0.6"/><rect x="226.2" y="328.2" width="9.5" height="2.5" fill="#a41818" opacity="0.8"/><rect x="246.2" y="306.8" width="6.5" height="9.8" rx="1" fill="url(#gTube)"/><rect x="248.9" y="308.8" width="1" height="8.8" fill="#333"/><polygon points="244.7,315.6 254.1,315.6 255.1,332.3 243.7,332.3" fill="url(#gRed)"/><rect x="244.2" y="320.6" width="10.5" height="0.9" fill="#f27070" opacity="0.6"/><rect x="244.7" y="330.3" width="9.5" height="2.5" fill="#a41818" opacity="0.8"/><rect x="264.5" y="308.5" width="6.5" height="9.8" rx="1" fill="url(#gTube)"/><rect x="267.2" y="310.5" width="1" height="8.8" fill="#333"/><polygon points="263.0,317.3 272.4,317.3 273.4,334.3 262.0,334.3" fill="url(#gRed)"/><rect x="262.5" y="322.3" width="10.5" height="0.9" fill="#f27070" opacity="0.6"/><rect x="263.0" y="332.3" width="9.5" height="2.5" fill="#a41818" opacity="0.8"/><rect x="189.0" y="342.6" width="9" height="8" fill="url(#gNut)"/><rect x="189.0" y="345.8" width="9" height="1.6" fill="#3c3c3c" opacity="0.7"/><rect x="207.5" y="344.5" width="9" height="8" fill="url(#gNut)"/><rect x="207.5" y="347.7" width="9" height="1.6" fill="#3c3c3c" opacity="0.7"/><rect x="226.0" y="346.5" width="9" height="8" fill="url(#gNut)"/><rect x="226.0" y="349.7" width="9" height="1.6" fill="#3c3c3c" opacity="0.7"/><rect x="244.5" y="348.4" width="9" height="8" fill="url(#gNut)"/><rect x="244.5" y="351.6" width="9" height="1.6" fill="#3c3c3c" opacity="0.7"/><rect x="262.8" y="350.3" width="9" height="8" fill="url(#gNut)"/><rect x="262.8" y="353.5" width="9" height="1.6" fill="#3c3c3c" opacity="0.7"/><polygon points="181,327.5 293,335.5 293,352 181,343.1" fill="url(#gBar)"/><polygon points="181,327.5 293,335.5 293,337.6 181,329.8" fill="#e4e5e5"/><polygon points="181,341.9 293,350.8 293,352 181,343.1" fill="#7e7e7e"/><ellipse cx="179.5" cy="331.5" rx="3" ry="8.5" fill="#e6e6e6" stroke="#9a9a9a" stroke-width="0.7"/><ellipse cx="179" cy="331.5" rx="1.4" ry="5.5" fill="#bdbdbd"/><rect x="237.5" y="336" width="4" height="3" fill="#d84040" opacity="0.8"/><rect x="237" y="340.5" width="5" height="2.5" fill="#d84040" opacity="0.8"/><rect x="282" y="330.7" width="7.8" height="5.5" rx="1.5" fill="#dedede" stroke="#9c9c9c" stroke-width="0.5"/><polygon points="292.5,333.5 302,334.5 302.3,352.5 292.5,352" fill="#e4e4e4" stroke="#a5a5a5" stroke-width="0.5"/><ellipse cx="298.5" cy="343" rx="2.3" ry="6.8" fill="#7f7f7f"/><rect x="285" y="353.4" width="6.4" height="13.6" fill="#ececec" stroke="#b5b5b5" stroke-width="0.5"/><polygon points="265.8,363 276,358.5 278.5,365.5 268,369.5" fill="#dcdcdc" stroke="#a0a0a0" stroke-width="0.5"/><ellipse cx="266.6" cy="366" rx="1.9" ry="3.2" fill="#c4c4c4" stroke="#8f8f8f" stroke-width="0.5"/><ellipse cx="278.2" cy="361.2" rx="7" ry="6.8" fill="#e6e6e6" stroke="#a3a3a3" stroke-width="0.6"/><ellipse cx="279" cy="361.2" rx="4.5" ry="5" fill="#d2d2d2"/><rect x="282" y="351.5" width="9" height="3" fill="#444" opacity="0.8"/><path d="M283.5,367 C286,372 287,376 286,380" stroke="#c4c4c4" stroke-width="1.3" fill="none"/><ellipse cx="283.8" cy="386.5" rx="5.6" ry="6.8" fill="#e0e0e0" stroke="#a3a3a3" stroke-width="0.8"/><ellipse cx="284.5" cy="386.8" rx="3" ry="4.4" fill="#c9c9c9"/></g><path d="M288.8,830.3 L334,829.3 L334,860.2 L288.8,860.7 Z" fill="url(#gChrome)"/><rect x="297.8" y="829.8" width="1.3" height="30.4" fill="#6a6a6a" opacity="0.65"/><rect x="300.3" y="829.8" width="0.8" height="30.4" fill="#f4f4f4" opacity="0.7"/><rect x="309.8" y="829.5999999999999" width="1.5" height="30.4" fill="#5e5e5e" opacity="0.6"/><ellipse cx="288.8" cy="845.5" rx="6.3" ry="15.2" fill="#d3d3d3" stroke="#5c5c5c" stroke-width="0.9"/><ellipse cx="289.3" cy="845.5" rx="4.41" ry="11.55" fill="#3e3e3e"/><ellipse cx="289.8" cy="845.5" rx="3.15" ry="9.42" fill="#9a9a9a"/><ellipse cx="290.1" cy="845.5" rx="1.89" ry="6.84" fill="#d8d8d8"/><rect x="305.3" y="819.5" width="15" height="11.5" fill="url(#gTube)"/><rect x="305.3" y="822" width="15" height="1.6" fill="#333" opacity="0.6"/><path d="M289.3,812.0 L289.5,805.5 L292.0,803.2 L297.0,801.0 L311.0,799.2 L326.0,799.0 L331.5,799.6 L335.0,801.3 L335.2,807.0 L332.5,809.6 L325.0,811.2 L321.7,815.4 L321.2,822.5 L304.3,822.5 L304.0,815.6 L295.0,815.0 L290.5,814.0 Z" fill="#2f56b6"/><path d="M289.5,809 L304,811 L321.5,810 L335,806 L335,807 L332.5,809.6 L325,811.2 L321.7,815.4 L321.2,822.5 L304.3,822.5 L304,815.6 L295,815 L290.5,814 Z" fill="#17348a" opacity="0.55"/><ellipse cx="311.5" cy="802.4" rx="14.6" ry="3.7" fill="#f0f0ee" stroke="#cfcfcf" stroke-width="0.4"/><path d="M305,801.2 L319,803.8" stroke="#777" stroke-width="0.9"/><path d="M370,847.5 L388.5,846.8 C392.5,851 393,866 389,871 L370,871.5 Z" fill="url(#gChrome)"/><ellipse cx="388.6" cy="858.8" rx="3.4" ry="12.2" fill="#a3a3a3" stroke="#3a3a3a" stroke-width="1"/><rect x="381.5" y="847" width="1.6" height="24.5" fill="#222" opacity="0.8"/><path d="M356.5,849 L377,848 L377,876.5 L356.5,877.5 Z" fill="url(#gChrome)"/><rect x="360" y="848.8" width="1.2" height="28.5" fill="#555" opacity="0.7"/><rect x="371" y="848.3" width="1" height="28.5" fill="#666" opacity="0.6"/><path d="M323.8,854.2 L360,853.2 L360,883.7 L323.8,884.2 Z" fill="url(#gChrome)"/><rect x="332.8" y="853.7" width="1.3" height="30" fill="#6a6a6a" opacity="0.65"/><rect x="335.3" y="853.7" width="0.8" height="30" fill="#f4f4f4" opacity="0.7"/><rect x="344.8" y="853.5" width="1.5" height="30" fill="#5e5e5e" opacity="0.6"/><ellipse cx="323.8" cy="869.2" rx="6.6" ry="15" fill="#d3d3d3" stroke="#5c5c5c" stroke-width="0.9"/><ellipse cx="324.3" cy="869.2" rx="4.62" ry="11.40" fill="#3e3e3e"/><ellipse cx="324.8" cy="869.2" rx="3.30" ry="9.30" fill="#9a9a9a"/><ellipse cx="325.1" cy="869.2" rx="1.98" ry="6.75" fill="#d8d8d8"/><rect x="341" y="843" width="14" height="10" fill="url(#gTube)"/><rect x="341" y="845.5" width="14" height="1.5" fill="#333" opacity="0.6"/><path d="M323.1,835.8 L323.3,829.3 L325.8,827.0 L330.8,824.8 L344.8,823.0 L359.8,822.8 L365.3,823.4 L368.8,825.1 L369.0,830.8 L366.3,833.4 L358.8,835.0 L355.5,839.2 L355.0,846.3 L338.1,846.3 L337.8,839.4 L328.8,838.8 L324.3,837.8 Z" fill="#e3282d"/><path d="M323.3,832.8 L337.8,834.8 L355.3,833.8 L368.8,829.8 L368.8,830.8 L366.3,833.4 L358.8,835.0 L355.5,839.1999999999999 L355.0,846.3 L338.1,846.3 L337.8,839.4 L328.8,838.8 L324.3,837.8 Z" fill="#a8141a" opacity="0.55"/><ellipse cx="345.3" cy="826.1999999999999" rx="14.6" ry="3.7" fill="#f0f0ee" stroke="#cfcfcf" stroke-width="0.4"/><path d="M338.8,825.0 L352.8,827.5999999999999" stroke="#777" stroke-width="0.9"/><path d="M574,798.3 L585.5,798.3 C589,800 589,808.5 585.5,810.3 L574,810.3 Z" fill="#9ea5a5"/><ellipse cx="586" cy="804.3" rx="2.2" ry="5.6" fill="#b9c0c0"/><path d="M553,783 L561,783.2 C574,785 580.5,797 580,812 C579.5,827 571,838.6 559,838.6 L553,838.6 Z" fill="#b4b9b9"/><ellipse cx="553.3" cy="810.8" rx="26.2" ry="27.7" fill="#cfd3d3"/><ellipse cx="553.3" cy="810.8" rx="26.2" ry="27.7" fill="none" stroke="#a9afaf" stroke-width="0.7"/><ellipse cx="552.9" cy="811" rx="20.8" ry="24" fill="url(#gThRing)"/><ellipse cx="554" cy="810.4" rx="17.4" ry="21.8" fill="#eceeed"/><line x1="543.95" y1="823.58" x2="542.89" y2="824.85" stroke="#555" stroke-width="0.6"/><rect x="544.87" y="820.21" width="2.4" height="1.8" fill="#666" opacity="0.7"/><line x1="540.80" y1="817.58" x2="539.42" y2="818.27" stroke="#555" stroke-width="0.6"/><line x1="539.70" y1="810.50" x2="538.20" y2="810.50" stroke="#555" stroke-width="0.6"/><rect x="541.50" y="809.60" width="2.4" height="1.8" fill="#666" opacity="0.7"/><line x1="540.80" y1="803.42" x2="539.42" y2="802.73" stroke="#555" stroke-width="0.6"/><line x1="543.95" y1="797.42" x2="542.89" y2="796.15" stroke="#555" stroke-width="0.6"/><rect x="544.87" y="798.99" width="2.4" height="1.8" fill="#666" opacity="0.7"/><line x1="548.65" y1="793.41" x2="548.08" y2="791.75" stroke="#555" stroke-width="0.6"/><line x1="554.20" y1="792.00" x2="554.20" y2="790.20" stroke="#555" stroke-width="0.6"/><rect x="553.00" y="794.60" width="2.4" height="1.8" fill="#666" opacity="0.7"/><line x1="559.75" y1="793.41" x2="560.32" y2="791.75" stroke="#555" stroke-width="0.6"/><line x1="564.45" y1="797.42" x2="565.51" y2="796.15" stroke="#555" stroke-width="0.6"/><rect x="561.13" y="798.99" width="2.4" height="1.8" fill="#666" opacity="0.7"/><line x1="567.60" y1="803.42" x2="568.98" y2="802.73" stroke="#555" stroke-width="0.6"/><line x1="568.70" y1="810.50" x2="570.20" y2="810.50" stroke="#555" stroke-width="0.6"/><rect x="564.50" y="809.60" width="2.4" height="1.8" fill="#666" opacity="0.7"/><line x1="567.60" y1="817.58" x2="568.98" y2="818.27" stroke="#555" stroke-width="0.6"/><line x1="564.45" y1="823.58" x2="565.51" y2="824.85" stroke="#555" stroke-width="0.6"/><rect x="561.13" y="820.21" width="2.4" height="1.8" fill="#666" opacity="0.7"/><line x1="542" y1="794.5" x2="558.3" y2="819" stroke="#222" stroke-width="1.1"/><circle cx="553.3" cy="810.8" r="1.9" fill="#222"/><rect x="549.5" y="822.2" width="10.7" height="7.4" fill="#27a055"/><rect x="550.5" y="823.4" width="8.7" height="1.2" fill="#bfe8cf" opacity="0.8"/><rect x="550.5" y="825.6" width="8.7" height="1.2" fill="#bfe8cf" opacity="0.6"/><ellipse cx="442.09999999999997" cy="159.4" rx="18.3" ry="18.099999999999998" fill="#d8d8d8" opacity="0.5"/><circle cx="440.9" cy="157.6" r="17.7" fill="url(#gNew)"/><g transform="translate(440.9 159.1) rotate(-16)"><text x="0" y="3.8" text-anchor="middle" font-family="Liberation Sans" font-weight="bold" font-style="italic" font-size="15.5" fill="#1f9038" stroke="#1f9038" stroke-width="0.9" textLength="30" lengthAdjust="spacingAndGlyphs">new</text></g><ellipse cx="441.9" cy="490.0" rx="18.3" ry="18.099999999999998" fill="#d8d8d8" opacity="0.5"/><circle cx="440.7" cy="488.2" r="17.7" fill="url(#gNew)"/><g transform="translate(440.7 489.7) rotate(-16)"><text x="0" y="3.8" text-anchor="middle" font-family="Liberation Sans" font-weight="bold" font-style="italic" font-size="15.5" fill="#1f9038" stroke="#1f9038" stroke-width="0.9" textLength="30" lengthAdjust="spacingAndGlyphs">new</text></g><path id="arcT1" d="M508.2,183.3 A10.8,10.8 0 0 1 529.8,183.3" fill="none"/><path id="arcB1" d="M504.8,183.3 A14.2,14.2 0 0 0 533.2,183.3" fill="none"/><circle cx="519" cy="183.3" r="14.8" fill="#fff" stroke="#e3f1e8" stroke-width="0.6"/><text font-family="Liberation Sans" font-weight="bold" font-size="5.4" fill="#1f9a4f"><textPath href="#arcT1" startOffset="50%" text-anchor="middle" textLength="25" lengthAdjust="spacingAndGlyphs">ATTACCO</textPath></text><text font-family="Liberation Sans" font-weight="bold" font-size="4.6" fill="#1f9a4f"><textPath href="#arcB1" startOffset="50%" text-anchor="middle" textLength="30" lengthAdjust="spacingAndGlyphs">CONNECTION</textPath></text><rect x="504.2" y="180.70000000000002" width="29.6" height="5.1" fill="#1f9a4f"/><text x="519" y="185.4" text-anchor="middle" font-family="Liberation Sans" font-weight="bold" font-size="5.8" fill="#fff" textLength="18" lengthAdjust="spacingAndGlyphs">24x19</text><path id="arcT2" d="M507.59999999999997,514.5 A10.8,10.8 0 0 1 529.1999999999999,514.5" fill="none"/><path id="arcB2" d="M504.2,514.5 A14.2,14.2 0 0 0 532.6,514.5" fill="none"/><circle cx="518.4" cy="514.5" r="14.8" fill="#fff" stroke="#e3f1e8" stroke-width="0.6"/><text font-family="Liberation Sans" font-weight="bold" font-size="5.4" fill="#1f9a4f"><textPath href="#arcT2" startOffset="50%" text-anchor="middle" textLength="25" lengthAdjust="spacingAndGlyphs">ATTACCO</textPath></text><text font-family="Liberation Sans" font-weight="bold" font-size="4.6" fill="#1f9a4f"><textPath href="#arcB2" startOffset="50%" text-anchor="middle" textLength="30" lengthAdjust="spacingAndGlyphs">CONNECTION</textPath></text><rect x="503.59999999999997" y="511.9" width="29.6" height="5.1" fill="#1f9a4f"/><text x="518.4" y="516.6" text-anchor="middle" font-family="Liberation Sans" font-weight="bold" font-size="5.8" fill="#fff" textLength="18" lengthAdjust="spacingAndGlyphs">24x19</text></svg>
<svg class="abs" style="left:0;top:0" width="677" height="958">
<rect x="32" y="405.8" width="582" height="1.2" fill="#84b59d"/>
<rect x="32" y="736" width="582" height="1.2" fill="#84b59d"/>
<rect x="403" y="736.5" width="1.1" height="180" fill="#7cae97"/>
<rect x="32" y="915.8" width="556" height="1.4" fill="#2e7f56"/>
<rect x="587.3" y="916.2" width="26.1" height="20.9" fill="#129a48"/>
</svg>
<div class="t" style="left:32.80px;top:924.67px;font-size:8.7px;line-height:10.44px;font-weight:normal;color:#231f20;font-style:normal;transform:scaleX(1.0026);transform-origin:left;">CATALOGO · LISTINO 2026.3</div>
<div class="t" style="right:93.00px;top:925.24px;font-size:8.2px;line-height:9.84px;font-weight:normal;color:#231f20;font-style:normal;transform:scaleX(0.937);transform-origin:right;">04 - COLLETTORI TERMOELETTRICI ED ACCESSORI</div>
<div class="t" style="left:591.40px;top:921.10px;font-size:11.2px;line-height:13.44px;font-weight:bold;color:#fff;font-style:italic;">169</div>
</body></html>
